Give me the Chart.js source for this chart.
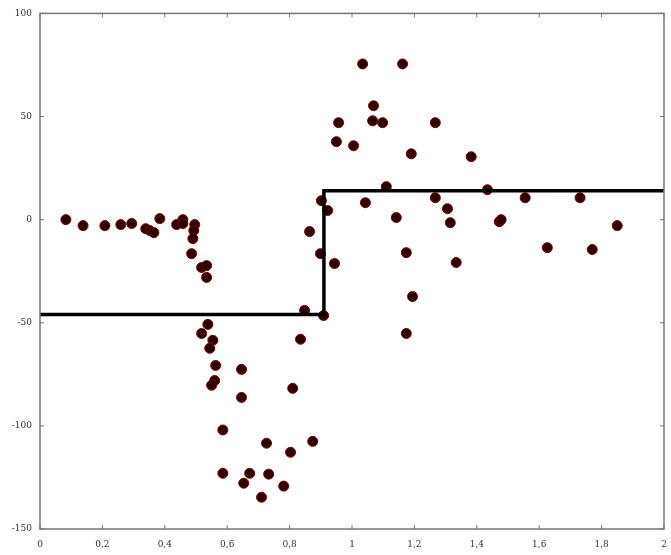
<!DOCTYPE html>
<html>
<head>
<meta charset="utf-8">
<script src="https://cdn.jsdelivr.net/npm/chart.js@4.4.1/dist/chart.umd.min.js"></script>
<style>
  html, body { margin: 0; padding: 0; background: #fff; }
  #wrap { width: 671px; height: 555px; }
</style>
</head>
<body>
<div id="wrap"><canvas id="fitChart" width="671" height="555"></canvas></div>
<script>
// scattered samples (x, y)
const sampleX = [
  0.083, 0.138, 0.208, 0.259, 0.294, 0.339, 0.352, 0.365, 0.384, 0.438,
  0.458, 0.458, 0.496, 0.493, 0.490, 0.486, 0.518, 0.534, 0.534,
  0.538, 0.518, 0.554, 0.544, 0.563, 0.560, 0.550, 0.646, 0.646, 0.586,
  0.726, 0.874, 0.803, 0.810, 0.835, 0.848, 0.586, 0.672, 0.653, 0.733,
  0.781, 0.710,
  0.909, 0.864, 0.902, 0.922, 0.899, 0.944,
  1.034, 1.162, 1.069, 0.957, 1.066, 1.098, 1.267, 0.950, 1.005, 1.190,
  1.382, 1.110, 1.434, 1.043, 1.267, 1.306, 1.555, 1.731, 1.142, 1.315,
  1.472, 1.478, 1.850, 1.174, 1.334, 1.626, 1.770, 1.194, 1.174
];
const sampleY = [
  0, -2.9, -2.9, -2.4, -1.9, -4.4, -5.3, -6.3, 0.5, -2.4,
  0, -1.9, -2.4, -5.3, -9.2, -16.5, -23.2, -22.3, -28,
  -50.8, -55.2, -58.5, -62.4, -70.7, -78, -80.3, -72.6, -86.2, -102,
  -108.4, -107.5, -112.8, -81.8, -58, -44, -123, -123, -127.8, -123.4,
  -129.2, -134.6,
  -46.5, -5.8, 9.2, 4.4, -16.5, -21.3,
  75.5, 75.5, 55.2, 47, 47.9, 47, 47, 37.8, 35.8, 31.9,
  30.5, 16, 14.5, 8.2, 10.6, 5.3, 10.6, 10.6, 1, -1.5,
  -1, 0, -2.9, -16, -20.8, -13.6, -14.5, -37.3, -55.2
];

// step fit
const stepX = [0, 0.91, 0.91, 2];
const stepY = [-46, -46, 14, 14];

const xTicks = [0, 0.2, 0.4, 0.6, 0.8, 1, 1.2, 1.4, 1.6, 1.8, 2];
const yTicks = [-150, -100, -50, 0, 50, 100];

const frameColor = "#777";

// matplotlib-like box with inward ticks
const framePlugin = {
  id: "frame",
  afterDraw(chart) {
    const { ctx, chartArea: a, scales } = chart;
    ctx.save();
    ctx.strokeStyle = frameColor;
    ctx.lineWidth = 1.5;
    ctx.strokeRect(a.left, a.top, a.right - a.left, a.bottom - a.top);
    ctx.lineWidth = 1;
    xTicks.forEach((v) => {
      const px = scales.x.getPixelForValue(v);
      ctx.beginPath();
      ctx.moveTo(px, a.bottom);
      ctx.lineTo(px, a.bottom - 4);
      ctx.moveTo(px, a.top);
      ctx.lineTo(px, a.top + 4);
      ctx.stroke();
    });
    yTicks.forEach((v) => {
      const py = scales.y.getPixelForValue(v);
      ctx.beginPath();
      ctx.moveTo(a.left, py);
      ctx.lineTo(a.left + 4, py);
      ctx.moveTo(a.right, py);
      ctx.lineTo(a.right - 4, py);
      ctx.stroke();
    });
    ctx.restore();
  },
};

new Chart(document.getElementById("fitChart"), {
  type: "scatter",
  data: {
    datasets: [
      {
        label: "fit",
        type: "line",
        data: stepX.map((x, i) => ({ x, y: stepY[i] })),
        borderColor: "#000",
        borderWidth: 3.5,
        pointRadius: 0,
        fill: false,
        tension: 0,
        order: 1,
      },
      {
        label: "samples",
        data: sampleX.map((x, i) => ({ x, y: sampleY[i] })),
        backgroundColor: "#2a0000",
        borderColor: "#7a0000",
        borderWidth: 1,
        pointRadius: 5,
        order: 2,
      },
    ],
  },
  options: {
    responsive: false,
    animation: false,
    layout: { padding: { top: 13, right: 7, left: 0, bottom: 0 } },
    plugins: {
      legend: { display: false },
      tooltip: { enabled: false },
    },
    scales: {
      x: {
        type: "linear",
        min: 0,
        max: 2,
        afterBuildTicks: (axis) => {
          axis.ticks = xTicks.map((v) => ({ value: v }));
        },
        afterFit: (axis) => {
          axis.height = 26;
          axis.paddingLeft = 0;
          axis.paddingRight = 0;
        },
        grid: { display: false, drawTicks: false },
        border: { display: false },
        ticks: {
          padding: 10,
          maxRotation: 0,
          autoSkip: false,
          color: "#333",
          font: { family: "DejaVu Serif", size: 9 },
          callback: (v) => String(+v.toFixed(1)).replace(".", ","),
        },
      },
      y: {
        type: "linear",
        min: -150,
        max: 100,
        afterBuildTicks: (axis) => {
          axis.ticks = yTicks.map((v) => ({ value: v }));
        },
        afterFit: (axis) => {
          axis.width = 40;
        },
        grid: { display: false, drawTicks: false },
        border: { display: false },
        ticks: {
          padding: 8,
          autoSkip: false,
          color: "#333",
          font: { family: "DejaVu Serif", size: 9 },
        },
      },
    },
  },
  plugins: [framePlugin],
});
</script>
</body>
</html>
